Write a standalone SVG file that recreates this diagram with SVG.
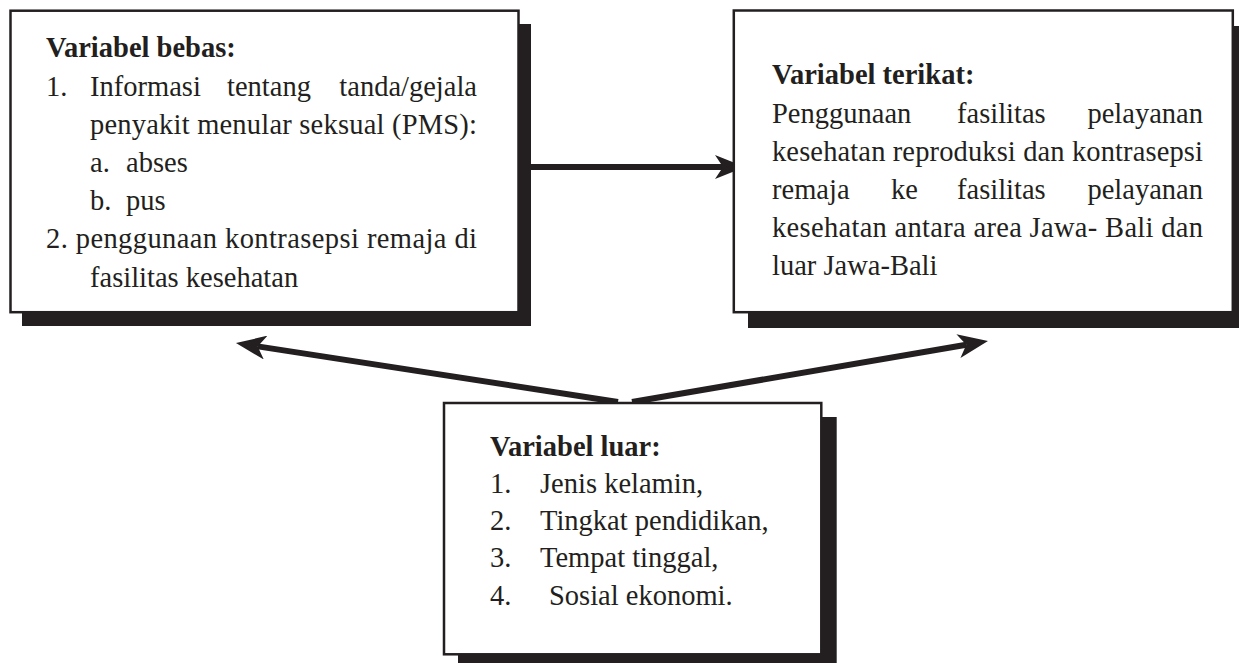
<svg xmlns="http://www.w3.org/2000/svg" width="1239" height="663" viewBox="0 0 1239 663">
<style>
.shadow{fill:#231f20}
.box{fill:#fff;stroke:#231f20;stroke-width:2.5}
.t{font-family:"Liberation Serif","Times New Roman",serif;font-size:28.5px;fill:#231f20}
.b{font-weight:bold}
.conn{stroke:#231f20;stroke-width:6;fill:none;marker-end:url(#ah)}
</style>
<defs>
<marker id="ah" markerUnits="userSpaceOnUse" viewBox="0 0 30 24" refX="8" refY="12" markerWidth="30" markerHeight="24" orient="auto">
<path d="M0,0 L30,12 L0,24 L8,12 z" fill="#231f20"/>
</marker>
</defs>
<rect width="1239" height="663" fill="#fff"/>

<g id="connectors">
<path class="conn" d="M531,167 L723,167"/>
<path class="conn" d="M618,402 L257.7,346.4"/>
<path class="conn" d="M632,402 L966.3,344.7"/>
</g>

<g id="node-bebas">
<rect class="shadow" x="22" y="24" width="509" height="302"/>
<rect class="box" x="10.5" y="10.7" width="508" height="301.5"/>
<text class="t b" x="46" y="57">Variabel bebas:</text>
<text class="t" y="96"><tspan x="46">1.</tspan><tspan x="90">Informasi</tspan><tspan x="227">tentang</tspan><tspan x="477" text-anchor="end">tanda/gejala</tspan></text>
<text class="t" x="90" y="134" textLength="387" lengthAdjust="spacing">penyakit menular seksual (PMS):</text>
<text class="t" y="172"><tspan x="90">a.</tspan><tspan x="126">abses</tspan></text>
<text class="t" y="210"><tspan x="90">b.</tspan><tspan x="126">pus</tspan></text>
<text class="t" x="46" y="248" textLength="431" lengthAdjust="spacing">2. penggunaan kontrasepsi remaja di</text>
<text class="t" x="90" y="287">fasilitas kesehatan</text>
</g>

<g id="node-terikat">
<rect class="shadow" x="748" y="26" width="500" height="302"/>
<rect class="box" x="733.8" y="10.5" width="499" height="301.7"/>
<text class="t b" x="772" y="83.5">Variabel terikat:</text>
<text class="t" y="122.5"><tspan x="772">Penggunaan</tspan><tspan x="957">fasilitas</tspan><tspan x="1203" text-anchor="end">pelayanan</tspan></text>
<text class="t" x="772" y="160.5" textLength="431" lengthAdjust="spacing">kesehatan reproduksi dan kontrasepsi</text>
<text class="t" y="198.5"><tspan x="772">remaja</tspan><tspan x="891">ke</tspan><tspan x="957">fasilitas</tspan><tspan x="1203" text-anchor="end">pelayanan</tspan></text>
<text class="t" x="772" y="236.5" textLength="431" lengthAdjust="spacing">kesehatan antara area Jawa- Bali dan</text>
<text class="t" x="772" y="275">luar Jawa-Bali</text>
</g>

<g id="node-luar">
<rect class="shadow" x="458" y="417" width="378.7" height="260"/>
<rect class="box" x="444" y="403" width="377.3" height="251.3"/>
<text class="t b" x="490" y="456">Variabel luar:</text>
<text class="t" y="493"><tspan x="490">1.</tspan><tspan x="540">Jenis kelamin,</tspan></text>
<text class="t" y="530"><tspan x="490">2.</tspan><tspan x="540">Tingkat pendidikan,</tspan></text>
<text class="t" y="567"><tspan x="490">3.</tspan><tspan x="540">Tempat tinggal,</tspan></text>
<text class="t" y="605"><tspan x="490">4.</tspan><tspan x="549">Sosial ekonomi.</tspan></text>
</g>
</svg>
